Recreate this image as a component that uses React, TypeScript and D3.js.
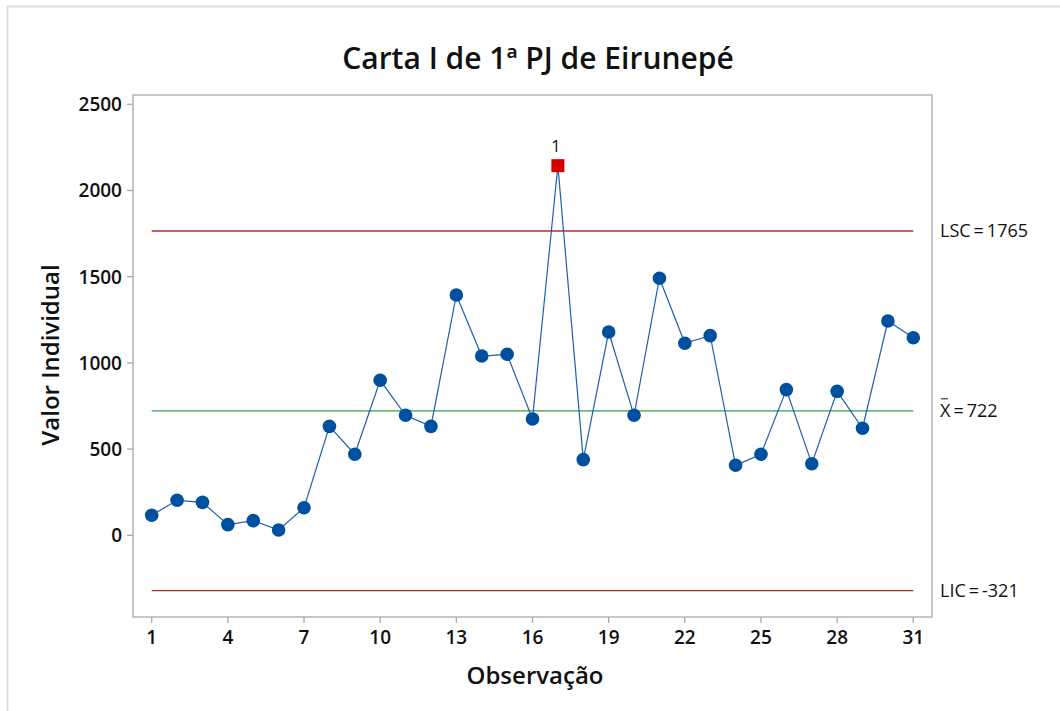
import React from "react";
import * as d3 from "d3";

const observations: number[] = d3.range(1, 32);
const values: number[] = [
  116, 203, 191, 62, 85, 31, 160, 632, 470, 899, 696, 632, 1394, 1040, 1050,
  675, 2144, 439, 1179, 696, 1491, 1114, 1158, 406, 470, 845, 415, 835, 621,
  1243, 1146,
];
const outOfControl: number[] = [17];
const xTicks: number[] = [1, 4, 7, 10, 13, 16, 19, 22, 25, 28, 31];
const yTicks: number[] = [0, 500, 1000, 1500, 2000, 2500];
const UCL = 1765;
const MEAN = 722;
const LCL = -321;

const W = 1060;
const H = 711;
const frame = { left: 133, right: 932, top: 95, bottom: 617 };
const FONT = "'Open Sans', 'Noto Sans', sans-serif";
const TS = "\u2009";

export default function App() {
  const x = d3.scaleLinear().domain([1, 31]).range([151.7, 913.3]);
  const y = d3.scaleLinear().domain([0, 2500]).range([535.3, 104.3]);
  const line = d3
    .line<number>()
    .x((_, i) => x(observations[i]))
    .y((d) => y(d));

  return (
    <svg
      width={W}
      height={H}
      style={{ position: "absolute", left: 0, top: 0, background: "#fff" }}
      fontFamily={FONT}
    >
      <rect x={0} y={0} width={W} height={H} fill="#fff" />
      <line x1={7} x2={W} y1={6.5} y2={6.5} stroke="#dcdcdc" strokeWidth={2} />
      <line x1={7.5} x2={7.5} y1={6} y2={H} stroke="#dcdcdc" strokeWidth={2} />

      <text x={538} y={69} textAnchor="middle" fontSize={30} fontWeight={600} fill="#111">
        Carta I de 1ª PJ de Eirunepé
      </text>

      <rect
        x={frame.left}
        y={frame.top}
        width={frame.right - frame.left}
        height={frame.bottom - frame.top}
        fill="none"
        stroke="#a8a8a8"
        strokeWidth={1.3}
      />

      {yTicks.map((t) => (
        <g key={"y" + t}>
          <line x1={frame.left - 6} x2={frame.left} y1={y(t)} y2={y(t)} stroke="#a8a8a8" strokeWidth={1.3} />
          <text x={122} y={y(t)} dy="0.36em" textAnchor="end" fontSize={19} fontWeight={600} fill="#111">
            {t}
          </text>
        </g>
      ))}
      {xTicks.map((t) => (
        <g key={"x" + t}>
          <line x1={x(t)} x2={x(t)} y1={frame.bottom} y2={frame.bottom + 6} stroke="#a8a8a8" strokeWidth={1.3} />
          <text x={x(t)} y={644} textAnchor="middle" fontSize={19} fontWeight={600} fill="#111">
            {t}
          </text>
        </g>
      ))}

      <text
        transform={`translate(59,355) rotate(-90)`}
        textAnchor="middle"
        fontSize={24}
        fontWeight={600}
        fill="#111"
      >
        Valor Individual
      </text>
      <text x={535} y={684} textAnchor="middle" fontSize={24} fontWeight={600} fill="#111">
        Observação
      </text>

      <line x1={x(1)} x2={x(31)} y1={y(UCL)} y2={y(UCL)} stroke="#c0282d" strokeWidth={1.3} />
      <line x1={x(1)} x2={x(31)} y1={y(LCL)} y2={y(LCL)} stroke="#c0282d" strokeWidth={1.3} />
      <line x1={x(1)} x2={x(31)} y1={y(MEAN)} y2={y(MEAN)} stroke="#3c9a46" strokeWidth={1.3} />

      <text x={940} y={y(UCL)} dy="0.36em" fontSize={18} fill="#111">
        {`LSC${TS}=${TS}1765`}
      </text>
      <text x={940} y={y(MEAN)} dy="0.36em" fontSize={18} fill="#111">
        {`X${TS}=${TS}722`}
      </text>
      <line x1={941} x2={948} y1={y(MEAN) - 12} y2={y(MEAN) - 12} stroke="#111" strokeWidth={1} />
      <text x={940} y={y(LCL)} dy="0.36em" fontSize={18} fill="#111">
        {`LIC${TS}=${TS}-321`}
      </text>

      <path d={line(values) || ""} fill="none" stroke="#1f5faa" strokeWidth={1.2} />

      {values.map((v, i) => {
        const obs = observations[i];
        if (outOfControl.includes(obs)) {
          return (
            <g key={"p" + i}>
              <rect x={x(obs) - 6.5} y={y(v) - 6.5} width={13} height={13} fill="#d40000" />
              <text x={x(obs) - 2} y={y(v) - 14} textAnchor="middle" fontSize={17} fill="#111">
                1
              </text>
            </g>
          );
        }
        return <circle key={"p" + i} cx={x(obs)} cy={y(v)} r={6.8} fill="#0050a0" />;
      })}
    </svg>
  );
}
